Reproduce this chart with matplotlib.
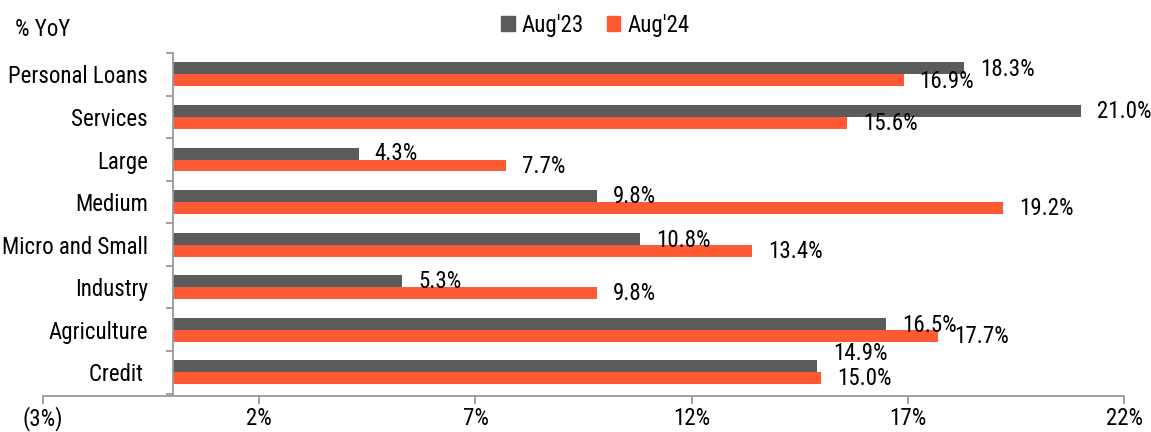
import matplotlib
matplotlib.use("Agg")
import matplotlib.pyplot as plt
from matplotlib.patches import Patch
from matplotlib.ticker import FixedLocator
import numpy as np

categories = ["Personal Loans", "Services", "Large", "Medium",
              "Micro and Small", "Industry", "Agriculture", "Credit "]
aug23 = [18.3, 21.0, 4.3, 9.8, 10.8, 5.3, 16.5, 14.9]
aug24 = [16.9, 15.6, 7.7, 19.2, 13.4, 9.8, 17.7, 15.0]
series_names = ["Aug'23", "Aug'24"]
xticks = [-3, 2, 7, 12, 17, 22]
xtick_labels = ["(3%)", "2%", "7%", "12%", "17%", "22%"]

GRAY = "#5B5B5E"
ORANGE = "#FF5A33"
AXIS = "#9A9A9A"

plt.rcParams['font.family'] = ['Roboto Condensed', 'Arial Narrow', 'Liberation Sans Narrow',
                               'Liberation Sans', 'DejaVu Sans']
FS = 16.5

fig = plt.figure(figsize=(11.51, 4.32), dpi=100)
ax = fig.add_axes([0.0374, 0.083, 0.9392, 0.794])

n = len(categories)
ypos = np.arange(n)[::-1]  # first category at top
h = 0.28
ax.barh(ypos + h / 2, aug23, height=h, color=GRAY, label=series_names[0])
ax.barh(ypos - h / 2, aug24, height=h, color=ORANGE, label=series_names[1])

# value labels (vertical nudge in points, positive = up)
dy23 = [-0.7, 0, 0, 0, -1.2, 0, -1.2, 9.5]
for i, (v, y) in enumerate(zip(aug23, ypos)):
    ax.annotate(f"{v:.1f}%", xy=(v, y + h / 2), xytext=(11.5, dy23[i]),
                textcoords="offset points", ha="left", va="center", fontsize=FS)
for v, y in zip(aug24, ypos):
    ax.annotate(f"{v:.1f}%", xy=(v, y - h / 2), xytext=(11.5, -0.5),
                textcoords="offset points", ha="left", va="center", fontsize=FS)

ax.set_xlim(-3, 22)
ax.set_ylim(-0.56, n - 0.5)

for s in ["top", "right"]:
    ax.spines[s].set_visible(False)
ax.spines["left"].set_position(("data", 0))
ax.spines["left"].set_color(AXIS)
ax.spines["bottom"].set_color(AXIS)
ax.spines["left"].set_linewidth(1.3)
ax.spines["bottom"].set_linewidth(1.3)

ax.set_xticks(xticks)
ax.set_xticklabels(xtick_labels, fontsize=FS)
ax.tick_params(axis="x", direction="out", length=6, width=1.3, color=AXIS, pad=1.5)

ax.set_yticks(ypos)
ax.set_yticklabels(categories, fontsize=FS)
ax.tick_params(axis="y", which="major", length=0, pad=18)
ax.yaxis.set_minor_locator(FixedLocator(np.arange(-0.5, n, 1.0)))
ax.tick_params(axis="y", which="minor", direction="out", length=5, width=1.3, color=AXIS)

fig.text(15 / 1151, 1 - 29 / 432, "% YoY", fontsize=FS, va="center", ha="left")

handles = [Patch(color=GRAY), Patch(color=ORANGE)]
fig.legend(handles, series_names, loc="center", bbox_to_anchor=(0.517, 0.942),
           ncol=2, frameon=False, fontsize=FS, handlelength=0.6, handleheight=0.6,
           handletextpad=0.3, columnspacing=1.0)

fig.savefig("out.png", dpi=100)
